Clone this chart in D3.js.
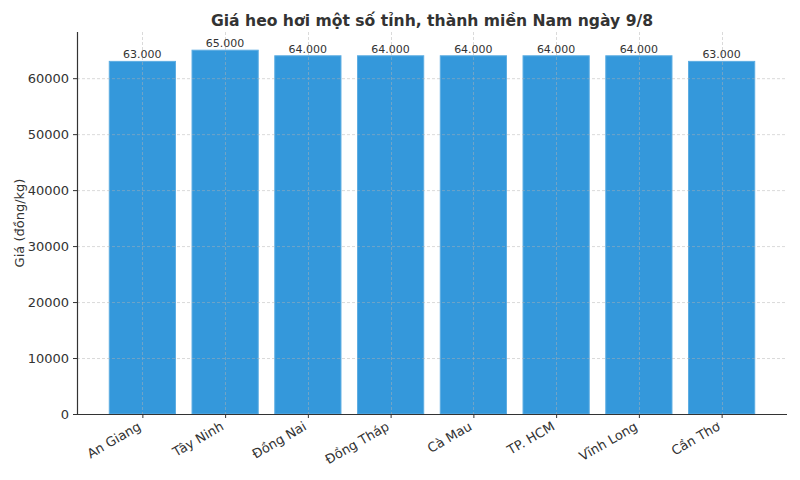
<!DOCTYPE html>
<html><head><meta charset="utf-8">
<script src="https://cdn.jsdelivr.net/npm/d3@7"></script>
<style>body{margin:0;background:#fff}svg{display:block;font-family:"DejaVu Sans",sans-serif}</style>
</head><body><svg id="c" width="800" height="480"></svg>
<script>
const categories = ["An Giang","Tây Ninh","Đồng Nai","Đồng Tháp","Cà Mau","TP. HCM","Vĩnh Long","Cần Thơ"];
const prices = [63000,65000,64000,64000,64000,64000,64000,63000];
const valueLabels = ["63.000","65.000","64.000","64.000","64.000","64.000","64.000","63.000"];
const yTicks = [0,10000,20000,30000,40000,50000,60000];
const title = "Giá heo hơi một số tỉnh, thành miền Nam ngày 9/8";
const yLabel = "Giá (đồng/kg)";

const svg = d3.select("#c");
const L=77, R=787, T=32, B=414;
const n = categories.length;
const x = d3.scaleLinear().domain([-0.79, n-1+0.79]).range([L,R]);
const y = d3.scaleLinear().domain([0, 68250]).range([B,T]);
const bw = x(0.8)-x(0);

// bars
svg.append("g").selectAll("rect").data(prices).join("rect")
  .attr("x",(d,i)=>x(i-0.4)).attr("y",d=>y(d))
  .attr("width",bw).attr("height",d=>B-y(d))
  .attr("fill","#3498db").attr("stroke","#5dade2").attr("stroke-width",1);

// grid
const grid = svg.append("g").attr("stroke","#b0b0b0").attr("stroke-opacity",0.6)
  .attr("stroke-dasharray","3,2").attr("stroke-width",0.8);
grid.selectAll("line.h").data(yTicks.slice(1)).join("line").attr("class","h")
  .attr("x1",L).attr("x2",R).attr("y1",d=>y(d)+0.5).attr("y2",d=>y(d)+0.5);
grid.selectAll("line.v").data(categories).join("line").attr("class","v")
  .attr("y1",T).attr("y2",B).attr("x1",(d,i)=>Math.round(x(i))+0.5).attr("x2",(d,i)=>Math.round(x(i))+0.5);

// y axis
const ya = svg.append("g").attr("transform",`translate(${L},0)`)
  .call(d3.axisLeft(y).tickValues(yTicks).tickFormat(d3.format("d")).tickSize(4).tickPadding(4));
ya.select(".domain").attr("stroke","#333").attr("stroke-width",1.2).attr("d",`M0.5,${T}V${B}`);
ya.selectAll(".tick line").attr("stroke","#333");
ya.selectAll(".tick text").attr("fill","#333").style("font-size","13px").style("font-family","DejaVu Sans");

// x axis
const xa = svg.append("g").attr("transform",`translate(0,${B})`)
  .call(d3.axisBottom(x).tickValues(d3.range(n)).tickFormat(i=>categories[i]).tickSize(4));
xa.select(".domain").attr("stroke","#333").attr("stroke-width",1.2).attr("d",`M${L},0.5H${R}`);
xa.selectAll(".tick line").attr("stroke","#333");
xa.selectAll(".tick text").attr("fill","#333").style("font-size","13px").style("font-family","DejaVu Sans")
  .attr("text-anchor","end").attr("dy","0").attr("y",0)
  .attr("transform","translate(-1,15) rotate(-30)");

// value labels
svg.append("g").selectAll("text").data(prices).join("text")
  .attr("x",(d,i)=>x(i)).attr("y",d=>y(d)-3)
  .attr("text-anchor","middle").attr("fill","#333").style("font-size","11px")
  .text((d,i)=>valueLabels[i]);

// title
svg.append("text").attr("x",(L+R)/2).attr("y",26).attr("text-anchor","middle")
  .attr("fill","#333").style("font-size","15.6px").style("font-weight","bold").text(title);

// y label
svg.append("text").attr("transform",`translate(24,${(T+B)/2}) rotate(-90)`)
  .attr("text-anchor","middle").attr("fill","#333").style("font-size","13px").text(yLabel);
</script></body></html>
